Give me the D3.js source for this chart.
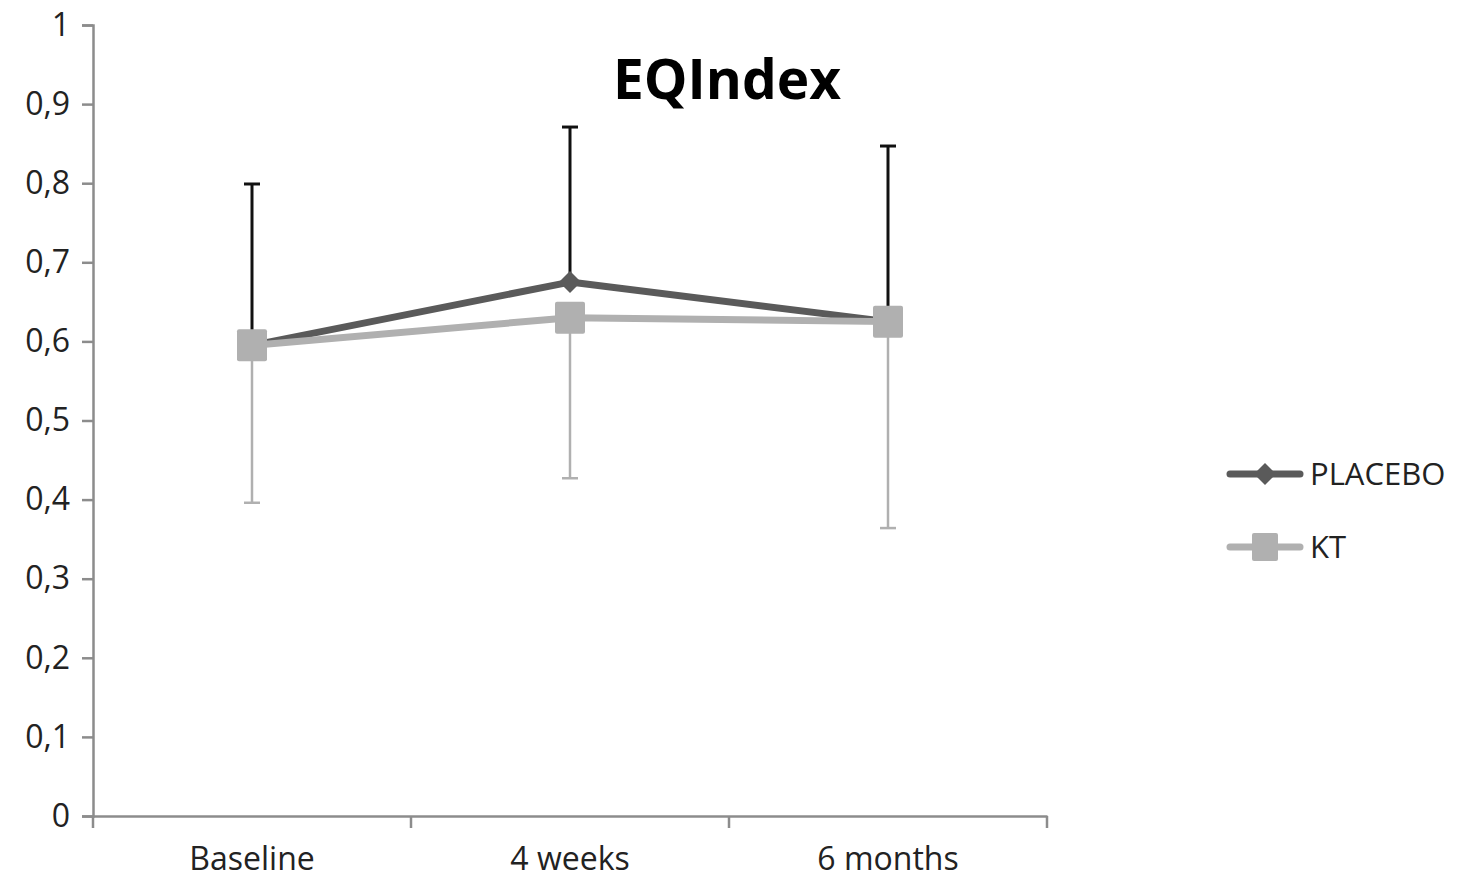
<!DOCTYPE html>
<html><head><meta charset="utf-8">
<script src="https://cdn.jsdelivr.net/npm/d3@7"></script>
<style>
html,body{margin:0;padding:0;background:#fff;}
svg text{font-family:"Open Sans",sans-serif;}
</style></head>
<body><svg id="c" width="1463" height="884"></svg>
<script>
const categories = ["Baseline", "4 weeks", "6 months"];
const placeboMean = [0.595, 0.675, 0.625];
const placeboUpper = [0.799, 0.871, 0.847];
const ktMean = [0.595, 0.630, 0.625];
const ktLower = [0.396, 0.427, 0.364];
const yTicks = [0, 0.1, 0.2, 0.3, 0.4, 0.5, 0.6, 0.7, 0.8, 0.9, 1];
const seriesNames = ["PLACEBO", "KT"];
const chartTitle = "EQIndex";

(function () {
const svg = d3.select("#c");
const mLeft = 93, mRight = 1047, mTop = 25, mBottom = 816;
const x = d3.scaleBand().domain(categories).range([mLeft, mRight]).padding(0);
const y = d3.scaleLinear().domain([0, 1]).range([mBottom, mTop]);
const cx = c => x(c) + x.bandwidth() / 2;

const axisColor = "#8c8c8c";
const yAxis = svg.append("g").attr("transform", `translate(${mLeft},0)`)
  .call(d3.axisLeft(y).tickValues(yTicks).tickSize(11).tickPadding(12)
    .tickFormat(d => d3.format("")(d).replace(".", ",")));
yAxis.select(".domain").attr("stroke", axisColor).attr("stroke-width", 2.5);
yAxis.selectAll(".tick line").attr("stroke", axisColor).attr("stroke-width", 2.5);
yAxis.selectAll(".tick text").attr("font-size", 32).attr("fill", "#222");

const xAxis = svg.append("g").attr("transform", `translate(0,${mBottom})`)
  .call(d3.axisBottom(x).tickSize(0).tickPadding(31));
xAxis.select(".domain").attr("stroke", axisColor).attr("stroke-width", 2.5);
xAxis.selectAll(".tick text").attr("font-size", 32).attr("fill", "#222");
const bounds = categories.map(c => x(c)).concat([mRight]);
svg.append("g").selectAll("line").data(bounds).join("line")
  .attr("x1", d => d).attr("x2", d => d).attr("y1", mBottom).attr("y2", mBottom + 12)
  .attr("stroke", axisColor).attr("stroke-width", 2.5);

const pColor = "#5a5a5a", kColor = "#b0b0b0";
const line = d3.line().x((d, i) => cx(categories[i])).y(d => y(d));

svg.append("path").datum(placeboMean).attr("d", line)
  .attr("fill", "none").attr("stroke", pColor).attr("stroke-width", 7).attr("stroke-linejoin", "round");
svg.append("path").datum(ktMean).attr("d", line)
  .attr("fill", "none").attr("stroke", kColor).attr("stroke-width", 7).attr("stroke-linejoin", "round");

const capW = 16;
categories.forEach((c, i) => {
  const X = cx(c);
  svg.append("line").attr("x1", X).attr("x2", X).attr("y1", y(placeboMean[i])).attr("y2", y(placeboUpper[i]))
    .attr("stroke", "#111").attr("stroke-width", 3);
  svg.append("line").attr("x1", X - capW / 2).attr("x2", X + capW / 2).attr("y1", y(placeboUpper[i])).attr("y2", y(placeboUpper[i]))
    .attr("stroke", "#111").attr("stroke-width", 3);
  svg.append("line").attr("x1", X).attr("x2", X).attr("y1", y(ktMean[i])).attr("y2", y(ktLower[i]))
    .attr("stroke", kColor).attr("stroke-width", 2.5);
  svg.append("line").attr("x1", X - capW / 2).attr("x2", X + capW / 2).attr("y1", y(ktLower[i])).attr("y2", y(ktLower[i]))
    .attr("stroke", kColor).attr("stroke-width", 2.5);
});

const diamond = (X, Y, s) => `M${X},${Y - s}L${X + s},${Y}L${X},${Y + s}L${X - s},${Y}Z`;
categories.forEach((c, i) => {
  svg.append("path").attr("d", diamond(cx(c), y(placeboMean[i]), 11)).attr("fill", pColor);
});
categories.forEach((c, i) => {
  svg.append("rect").attr("x", cx(c) - 15).attr("y", y(ktMean[i]) - 16).attr("width", 30).attr("height", 32)
    .attr("rx", 2).attr("fill", kColor);
});

svg.append("text").attr("x", 727).attr("y", 99).attr("text-anchor", "middle")
  .attr("font-size", 55).attr("font-weight", "bold")
  .attr("fill", "#000").text(chartTitle);

const legY = [474, 547];
const legC = [pColor, kColor];
seriesNames.forEach((n, i) => {
  const g = svg.append("g");
  g.append("line").attr("x1", 1230).attr("x2", 1300).attr("y1", legY[i]).attr("y2", legY[i])
    .attr("stroke", legC[i]).attr("stroke-width", 7).attr("stroke-linecap", "round");
  if (i === 0) g.append("path").attr("d", diamond(1265, legY[i], 11)).attr("fill", pColor);
  else g.append("rect").attr("x", 1252).attr("y", legY[i] - 14).attr("width", 26).attr("height", 28).attr("rx", 2).attr("fill", kColor);
  g.append("text").attr("x", 1310).attr("y", legY[i] + 11).attr("font-size", 31).attr("fill", "#222").text(n);
});
})();
</script></body></html>
